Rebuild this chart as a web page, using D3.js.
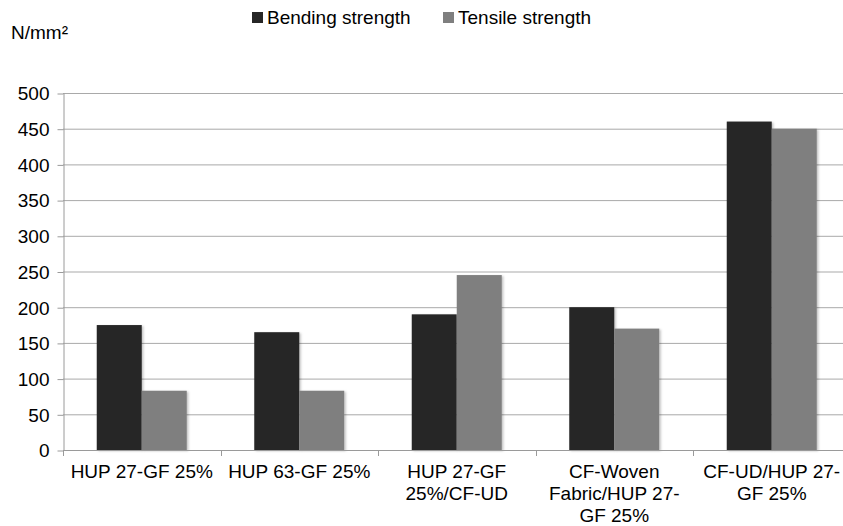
<!DOCTYPE html>
<html>
<head>
<meta charset="utf-8">
<script src="https://cdn.jsdelivr.net/npm/d3@7"></script>
<style>
  html, body { margin: 0; padding: 0; background: #fff; }
  svg { display: block; font-family: "Liberation Sans", Arial, sans-serif; }
</style>
</head>
<body>
<svg id="chart" width="843" height="526"></svg>
<script>
// Strength values per material build-up (N/mm²)
const categories = [
  ["HUP 27-GF 25%"],
  ["HUP 63-GF 25%"],
  ["HUP 27-GF", "25%/CF-UD"],
  ["CF-Woven", "Fabric/HUP 27-", "GF 25%"],
  ["CF-UD/HUP 27-", "GF 25%"]
];
const seriesNames = ["Bending strength", "Tensile strength"];
const bendingStrength = [175, 165, 190, 200, 460];
const tensileStrength = [83, 83, 245, 170, 450];
const yTicks = [0, 50, 100, 150, 200, 250, 300, 350, 400, 450, 500];
const unitLabel = "N/mm²";

const colors = ["#262626", "#7f7f7f"];
const seriesValues = [bendingStrength, tensileStrength];
const catKeys = categories.map(c => c.join(" "));

const svg = d3.select("#chart");
const margin = { left: 63, top: 93, bottom: 450, right: 850.5 };

const x0 = d3.scaleBand()
  .domain(catKeys)
  .range([margin.left, margin.right])
  .paddingInner(0.42857)
  .paddingOuter(0.21428);
const x1 = d3.scaleBand()
  .domain(seriesNames)
  .range([0, x0.bandwidth()]);
const y = d3.scaleLinear()
  .domain([0, 500])
  .range([margin.bottom, margin.top]);

// soft shadow under bars
const defs = svg.append("defs");
const f = defs.append("filter").attr("id", "shadow")
  .attr("x", "-10%").attr("y", "-10%").attr("width", "130%").attr("height", "130%");
f.append("feDropShadow").attr("dx", 1.5).attr("dy", 1).attr("stdDeviation", 1)
  .attr("flood-color", "#000").attr("flood-opacity", 0.25);

// horizontal gridlines
svg.append("g").selectAll("line")
  .data(yTicks.filter(t => t > 0))
  .join("line")
  .attr("x1", margin.left).attr("x2", margin.right)
  .attr("y1", d => y(d) + 0.5).attr("y2", d => y(d) + 0.5)
  .attr("stroke", "#a9a9a9").attr("stroke-width", 1);

// y axis
const yAxis = svg.append("g")
  .attr("transform", `translate(${margin.left + 0.5},0)`)
  .call(d3.axisLeft(y).tickValues(yTicks).tickSize(6).tickPadding(8).tickSizeOuter(0));
yAxis.select(".domain").attr("stroke", "#9a9a9a");
yAxis.selectAll(".tick line").attr("stroke", "#9a9a9a").attr("transform", "translate(0,0.5)");
yAxis.selectAll("text")
  .attr("font-size", 19).attr("fill", "#000")
  .attr("font-family", "Liberation Sans, Arial, sans-serif")
  .attr("dy", "0.36em");

// bars
const groups = svg.append("g").selectAll("g")
  .data(catKeys)
  .join("g")
  .attr("transform", d => `translate(${x0(d)},0)`);
groups.selectAll("rect")
  .data((d, i) => seriesNames.map((s, j) => ({ s, v: seriesValues[j][i], j })))
  .join("rect")
  .attr("x", d => x1(d.s))
  .attr("width", x1.bandwidth())
  .attr("y", d => y(d.v))
  .attr("height", d => y(0) - y(d.v))
  .attr("fill", d => colors[d.j])
  .attr("filter", "url(#shadow)");

// x axis line and category separators
const xAxisG = svg.append("g");
xAxisG.append("line")
  .attr("x1", margin.left).attr("x2", margin.right)
  .attr("y1", y(0) + 0.5).attr("y2", y(0) + 0.5)
  .attr("stroke", "#9a9a9a");
const bounds = catKeys.map(k => x0(k) - x0.step() * x0.paddingOuter())
  .concat([margin.right]);
xAxisG.selectAll("line.sep")
  .data(bounds)
  .join("line").attr("class", "sep")
  .attr("x1", d => Math.round(d) + 0.5).attr("x2", d => Math.round(d) + 0.5)
  .attr("y1", y(0)).attr("y2", y(0) + 6)
  .attr("stroke", "#9a9a9a");

// category labels
const labels = svg.append("g");
categories.forEach((lines, i) => {
  const cx = x0(catKeys[i]) + x0.bandwidth() / 2;
  const t = labels.append("text")
    .attr("x", cx).attr("y", 478)
    .attr("text-anchor", "middle")
    .attr("font-size", 19).attr("fill", "#000");
  lines.forEach((ln, k) => {
    t.append("tspan").attr("x", cx).attr("dy", k === 0 ? 0 : 22).text(ln);
  });
});

// unit label
svg.append("text")
  .attr("x", 11).attr("y", 39)
  .attr("font-size", 19).attr("fill", "#000")
  .text(unitLabel);

// legend
const legendPos = [252, 443];
const legend = svg.append("g");
seriesNames.forEach((name, i) => {
  legend.append("rect")
    .attr("x", legendPos[i]).attr("y", 12)
    .attr("width", 11).attr("height", 11)
    .attr("fill", colors[i]);
  legend.append("text")
    .attr("x", legendPos[i] + 15).attr("y", 24)
    .attr("font-size", 19).attr("fill", "#000")
    .text(name);
});
</script>
</body>
</html>
